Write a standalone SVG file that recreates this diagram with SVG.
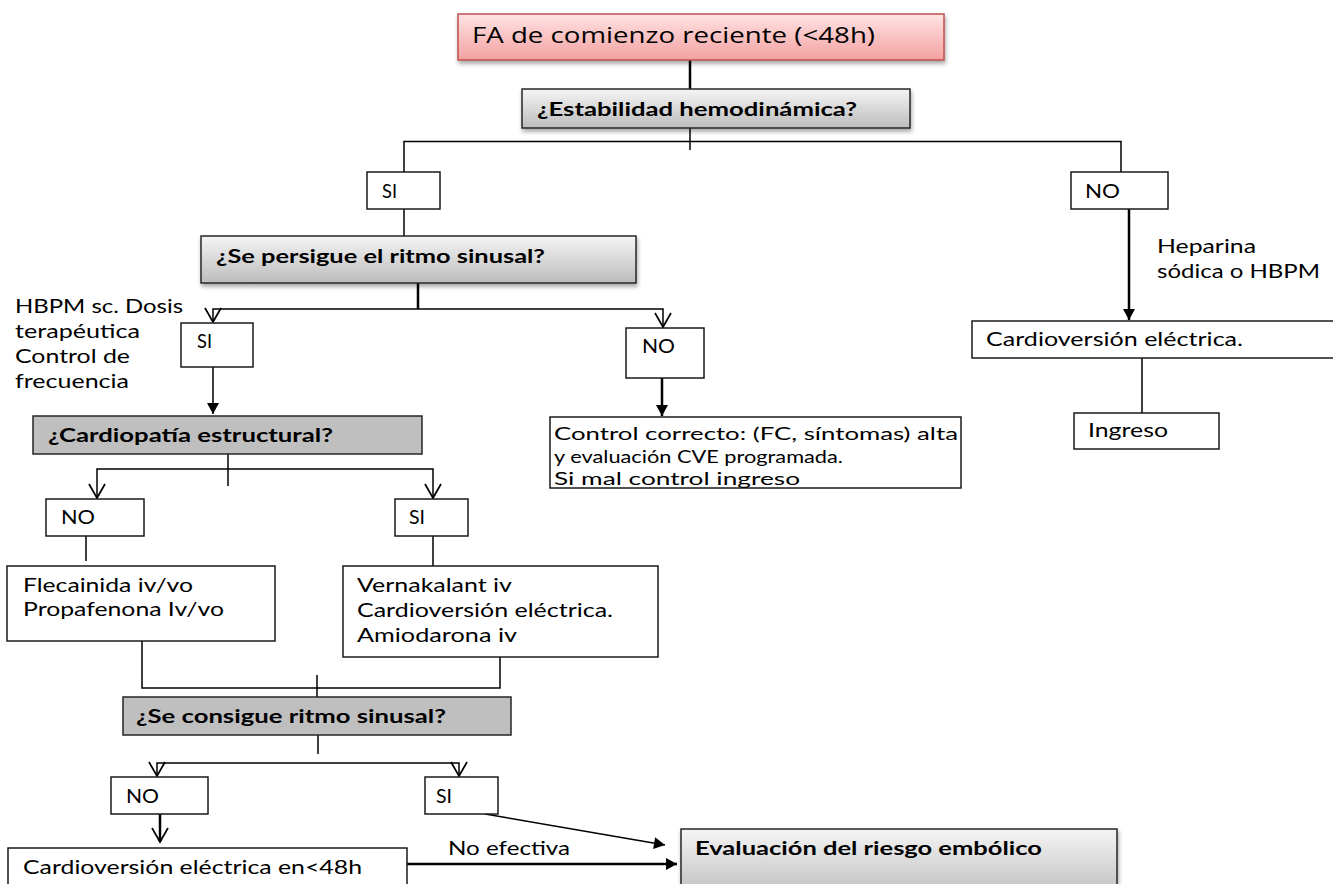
<svg xmlns="http://www.w3.org/2000/svg" width="1333" height="884" viewBox="0 0 1333 884">
<defs>
<linearGradient id="gGray" x1="0" y1="0" x2="0" y2="1"><stop offset="0" stop-color="#f5f5f5"/><stop offset="1" stop-color="#bcbcbc"/></linearGradient>
<linearGradient id="gPink" x1="0" y1="0" x2="0" y2="1"><stop offset="0" stop-color="#ffe3e3"/><stop offset="1" stop-color="#f4a1a1"/></linearGradient>
<filter id="sh" x="-5%" y="-20%" width="110%" height="160%"><feDropShadow dx="1" dy="3" stdDeviation="2" flood-color="#000" flood-opacity="0.35"/></filter>
<marker id="open" markerUnits="userSpaceOnUse" markerWidth="30" markerHeight="30" refX="0" refY="0" orient="auto" overflow="visible"><path d="M-14,-8 L0,0 L-14,8" fill="none" stroke="#000" stroke-width="1.7"/></marker>
<marker id="fill" markerUnits="userSpaceOnUse" markerWidth="30" markerHeight="30" refX="0" refY="0" orient="auto" overflow="visible"><path d="M-11,-6 L0,0 L-11,6 Z" fill="#000"/></marker>
</defs>
<style>
.box{fill:#fff;stroke:#1a1a1a;stroke-width:1.5}
.gray{fill:url(#gGray);stroke:#262626;stroke-width:1.5;filter:url(#sh)}
.flat{fill:#bfbfbf;stroke:#262626;stroke-width:1.5}
.pink{fill:url(#gPink);stroke:#c0504d;stroke-width:1.5;filter:url(#sh)}
.t{font-family:Lato,"Open Sans","Liberation Sans",sans-serif;font-size:19px;fill:#000}
.s{font-size:18px}
.b{font-family:Lato,"Open Sans","Liberation Sans",sans-serif;font-size:19.5px;font-weight:bold;fill:#000}
.c{fill:none;stroke:#000;stroke-width:1.5}
.k{stroke-width:2.5}
.o{marker-end:url(#open)}
.f{marker-end:url(#fill)}
</style>

<g id="connectors">
<path class="c k" d="M690,60 V89"/>
<path class="c" d="M690,128 V150"/>
<path class="c" d="M404,172 V141.5 H1121 V172"/>
<path class="c" d="M404,209 V236"/>
<path class="c k f" d="M1129,209 V320"/>
<path class="c" d="M1142,358 V413"/>
<path class="c k" d="M418,283 V309"/>
<path class="c o" d="M418,309 H213 V322"/>
<path class="c o" d="M418,309 H663 V327"/>
<path class="c f" d="M213,367 V414"/>
<path class="c k f" d="M662,378 V416"/>
<path class="c" d="M228,454 V486"/>
<path class="c o" d="M228,469 H97 V498"/>
<path class="c o" d="M228,469 H433 V498"/>
<path class="c" d="M86,536 V561"/>
<path class="c" d="M433,536 V566"/>
<path class="c" d="M142,641 V688 H500 V657"/>
<path class="c" d="M317,675 V697"/>
<path class="c" d="M318,735 V754"/>
<path class="c o" d="M318,763 H157 V776"/>
<path class="c o" d="M318,763 H459 V776"/>
<path class="c k o" d="M160,814 V842"/>
<path class="c f" d="M485,814 L665,845"/>
<path class="c k f" d="M407,864 H677"/>
<text class="t" x="448" y="855" textLength="122" lengthAdjust="spacingAndGlyphs">No efectiva</text>
<text class="t" x="1157" y="253" textLength="99" lengthAdjust="spacingAndGlyphs">Heparina</text>
<text class="t" x="1157" y="278" textLength="163" lengthAdjust="spacingAndGlyphs">sódica o HBPM</text>
<text class="t" x="15" y="313" textLength="168" lengthAdjust="spacingAndGlyphs">HBPM sc. Dosis</text>
<text class="t" x="15" y="338" textLength="125" lengthAdjust="spacingAndGlyphs">terapéutica</text>
<text class="t" x="15" y="363" textLength="115" lengthAdjust="spacingAndGlyphs">Control de</text>
<text class="t" x="15" y="388" textLength="114" lengthAdjust="spacingAndGlyphs">frecuencia</text>
</g>

<g id="n_fa">
<rect class="pink" x="458" y="14" width="486" height="46"/>
<text class="t" x="472" y="43" style="font-family:'Open Sans','Liberation Sans',sans-serif;font-size:22px" textLength="403" lengthAdjust="spacingAndGlyphs">FA de comienzo reciente (&lt;48h)</text>
</g>
<g id="n_estab">
<rect class="gray" x="522" y="89" width="388" height="39"/>
<text class="b" x="537" y="116" textLength="320" lengthAdjust="spacingAndGlyphs">¿Estabilidad hemodinámica?</text>
</g>
<g id="n_si1">
<rect class="box" x="367" y="172" width="73" height="37"/>
<text class="t" x="382" y="198" textLength="15" lengthAdjust="spacingAndGlyphs">SI</text>
</g>
<g id="n_no1">
<rect class="box" x="1071" y="172" width="97" height="37"/>
<text class="t" x="1085" y="198" textLength="35" lengthAdjust="spacingAndGlyphs">NO</text>
</g>
<g id="n_persigue">
<rect class="gray" x="201" y="236" width="435" height="47"/>
<text class="b" x="216" y="263" textLength="329" lengthAdjust="spacingAndGlyphs">¿Se persigue el ritmo sinusal?</text>
</g>
<g id="n_cve1">
<rect class="box" x="972" y="321" width="370" height="37"/>
<text class="t" x="986" y="346" textLength="257" lengthAdjust="spacingAndGlyphs">Cardioversión eléctrica.</text>
</g>
<g id="n_ingreso">
<rect class="box" x="1074" y="413" width="145" height="36"/>
<text class="t" x="1088" y="437" textLength="80" lengthAdjust="spacingAndGlyphs">Ingreso</text>
</g>
<g id="n_si2">
<rect class="box" x="181" y="323" width="72" height="44"/>
<text class="t" x="197" y="348" textLength="15" lengthAdjust="spacingAndGlyphs">SI</text>
</g>
<g id="n_no2">
<rect class="box" x="626" y="328" width="78" height="50"/>
<text class="t" x="642" y="353" textLength="33" lengthAdjust="spacingAndGlyphs">NO</text>
</g>
<g id="n_control">
<rect class="box" x="550" y="417" width="411" height="71"/>
<text class="t s" x="554" y="440" textLength="404" lengthAdjust="spacingAndGlyphs">Control correcto: (FC, síntomas) alta</text>
<text class="t s" x="554" y="463" textLength="289" lengthAdjust="spacingAndGlyphs">y evaluación CVE programada.</text>
<text class="t s" x="554" y="485" textLength="246" lengthAdjust="spacingAndGlyphs">Si mal control ingreso</text>
</g>
<g id="n_cardio">
<rect class="flat" x="33" y="416" width="389" height="38"/>
<text class="b" x="48" y="442" textLength="285" lengthAdjust="spacingAndGlyphs">¿Cardiopatía estructural?</text>
</g>
<g id="n_no3">
<rect class="box" x="46" y="499" width="98" height="37"/>
<text class="t" x="61" y="524" textLength="34" lengthAdjust="spacingAndGlyphs">NO</text>
</g>
<g id="n_si3">
<rect class="box" x="395" y="499" width="73" height="37"/>
<text class="t" x="409" y="524" textLength="16" lengthAdjust="spacingAndGlyphs">SI</text>
</g>
<g id="n_flec">
<rect class="box" x="7" y="566" width="268" height="75"/>
<text class="t" x="23" y="592" textLength="170" lengthAdjust="spacingAndGlyphs">Flecainida iv/vo</text>
<text class="t" x="23" y="616" textLength="201" lengthAdjust="spacingAndGlyphs">Propafenona Iv/vo</text>
</g>
<g id="n_vern">
<rect class="box" x="343" y="566" width="315" height="91"/>
<text class="t" x="357" y="592" textLength="155" lengthAdjust="spacingAndGlyphs">Vernakalant iv</text>
<text class="t" x="357" y="617" textLength="256" lengthAdjust="spacingAndGlyphs">Cardioversión eléctrica.</text>
<text class="t" x="357" y="642" textLength="160" lengthAdjust="spacingAndGlyphs">Amiodarona iv</text>
</g>
<g id="n_consigue">
<rect class="flat" x="123" y="697" width="388" height="38"/>
<text class="b" x="136" y="723" textLength="310" lengthAdjust="spacingAndGlyphs">¿Se consigue ritmo sinusal?</text>
</g>
<g id="n_no4">
<rect class="box" x="111" y="777" width="97" height="37"/>
<text class="t" x="126" y="803" textLength="33" lengthAdjust="spacingAndGlyphs">NO</text>
</g>
<g id="n_si4">
<rect class="box" x="425" y="777" width="73" height="37"/>
<text class="t" x="436" y="803" textLength="16" lengthAdjust="spacingAndGlyphs">SI</text>
</g>
<g id="n_cve2">
<rect class="box" x="8" y="848" width="399" height="50"/>
<text class="t" x="23" y="874" textLength="339" lengthAdjust="spacingAndGlyphs">Cardioversión eléctrica en&lt;48h</text>
</g>
<g id="n_eval">
<rect class="gray" x="681" y="829" width="436" height="70"/>
<text class="b" x="695" y="855" textLength="347" lengthAdjust="spacingAndGlyphs">Evaluación del riesgo embólico</text>
</g>
</svg>
